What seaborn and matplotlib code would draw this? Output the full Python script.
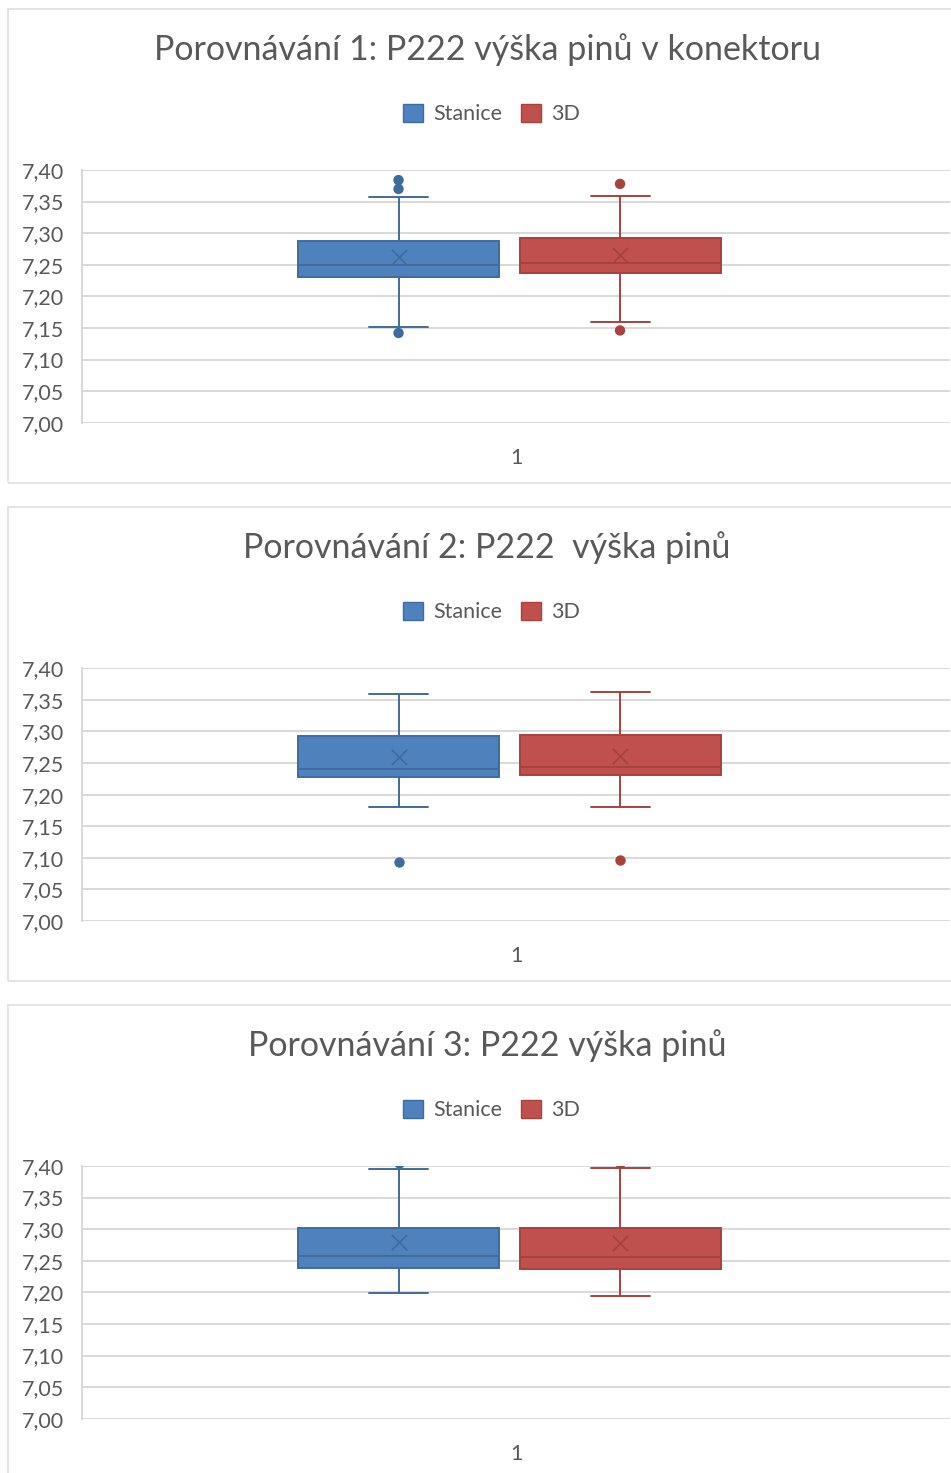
import numpy as np
import pandas as pd
import matplotlib
matplotlib.use("Agg")
import matplotlib.pyplot as plt
from matplotlib.patches import Patch, Rectangle
from matplotlib.transforms import ScaledTranslation
import seaborn as sns

# ---------------- data ----------------
titles = [
    "Porovnávání 1: P222 výška pinů v konektoru",
    "Porovnávání 2: P222  výška pinů",
    "Porovnávání 3: P222 výška pinů",
]
series = ["Stanice", "3D"]
category = "1"

# Stanice (blue)
st_whisker_low = [7.151, 7.180, 7.1985]
st_q1 = [7.231, 7.2275, 7.238]
st_median = [7.2496, 7.2412, 7.258]
st_q3 = [7.2876, 7.2924, 7.3026]
st_whisker_high = [7.358, 7.3598, 7.3955]
st_mean = [7.262, 7.2601, 7.279]
st_outliers = [[7.142, 7.370, 7.384], [7.0935], [7.404]]

# 3D (red)
d3_whisker_low = [7.1594, 7.181, 7.1945]
d3_q1 = [7.2365, 7.2307, 7.2375]
d3_median = [7.2523, 7.2433, 7.256]
d3_q3 = [7.292, 7.2945, 7.302]
d3_whisker_high = [7.3594, 7.363, 7.3968]
d3_mean = [7.2654, 7.2617, 7.278]
d3_outliers = [[7.146, 7.378], [7.0962], [7.404]]

y_ticks = [7.00, 7.05, 7.10, 7.15, 7.20, 7.25, 7.30, 7.35, 7.40]
y_tick_labels = ["7,00", "7,05", "7,10", "7,15", "7,20", "7,25", "7,30", "7,35", "7,40"]

# ---------------- styling ----------------
fills = {"Stanice": "#4F81BD", "3D": "#C0504D"}
edges = {"Stanice": "#3F6C9F", "3D": "#A8423F"}
text_col = "#595959"
grid_col = "#D9D9D9"

sns.set_theme(style="white")
plt.rcParams["font.family"] = ["Lato", "DejaVu Sans"]

W, H = 951, 1473
fig = plt.figure(figsize=(W / 100, H / 100), dpi=100)
fig.patch.set_facecolor("white")

# ---------------- build tables ----------------
summ = {
    "Stanice": (st_whisker_low, st_q1, st_median, st_q3, st_whisker_high, st_mean, st_outliers),
    "3D": (d3_whisker_low, d3_q1, d3_median, d3_q3, d3_whisker_high, d3_mean, d3_outliers),
}
box_rows, mean_rows, out_rows = [], [], []
for p in range(3):
    for s in series:
        wl, q1, md, q3, wh, mn, outs = summ[s]
        # sample whose linear quartiles / range equal the read summary
        for v in [wl[p], q1[p], q1[p], md[p], md[p], md[p], q3[p], q3[p], wh[p]]:
            box_rows.append(dict(panel=p, series=s, cat=category, value=v))
        mean_rows.append(dict(panel=p, series=s, cat=category, value=mn[p]))
        for v in outs[p]:
            out_rows.append(dict(panel=p, series=s, cat=category, value=v))
box_df = pd.DataFrame(box_rows)
mean_df = pd.DataFrame(mean_rows)
out_df = pd.DataFrame(out_rows)

panel_tops = [9, 507, 1005]
axis_tops = [170, 668.3, 1166]
ax_h = 252.7

for p in range(3):
    # chart-area border
    top = panel_tops[p]
    bottom = top + 474
    fig.patches.append(Rectangle((8 / W, 1 - bottom / H), 1.2, 474 / H,
                                 transform=fig.transFigure, fill=False,
                                 edgecolor="#E2E2E2", linewidth=1.3, zorder=0))
    # title
    fig.text(487 / W, 1 - (top + 41) / H, titles[p], ha="center", va="center",
             fontsize=24.5, color=text_col)

    at = axis_tops[p]
    ax = fig.add_axes([82 / W, 1 - (at + ax_h) / H, (950 - 82) / W, ax_h / H])
    sub = box_df[box_df.panel == p]
    sns.boxplot(data=sub, x="cat", y="value", hue="series", hue_order=series,
                palette=fills, saturation=1, width=0.8, gap=0.0925, whis=(0, 100),
                showfliers=False, capwidths=0.1065, linewidth=1.3,
                legend=False, ax=ax)
    # colour edges per series (left = Stanice, right = 3D)
    for ln in ax.lines:
        xm = np.mean(ln.get_xdata())
        ln.set_color(edges["Stanice"] if xm < 0 else edges["3D"])
        ln.set_linewidth(1.4)
    for patch in ax.patches:
        verts = patch.get_path().vertices
        xm = np.mean(verts[:, 0])
        patch.set_edgecolor(edges["Stanice"] if xm < 0 else edges["3D"])
        patch.set_linewidth(1.4)

    n0 = len(ax.collections)
    sns.stripplot(data=mean_df[mean_df.panel == p], x="cat", y="value", hue="series",
                  hue_order=series, palette=edges, dodge=True, jitter=False,
                  marker="x", size=11, linewidth=1.2, legend=False, ax=ax, zorder=5)
    sns.stripplot(data=out_df[out_df.panel == p], x="cat", y="value", hue="series",
                  hue_order=series, palette=fills, dodge=True, jitter=False,
                  marker="o", size=7.5, linewidth=0, legend=False, ax=ax, zorder=5)
    for coll in ax.collections[n0:]:
        offs = coll.get_offsets()
        if len(offs) == 0:
            continue
        cols = [edges["Stanice"] if o[0] < 0 else edges["3D"] for o in offs]
        coll.set_edgecolors(cols)
        coll.set_facecolors(cols)

    ax.set_xlim(-0.7716, 0.7959)
    ax.set_ylim(7.0, 7.4)
    ax.set_yticks(y_ticks)
    ax.set_yticklabels(y_tick_labels)
    ax.set_xlabel("")
    ax.set_ylabel("")
    ax.set_xticks([0])
    ax.set_xticklabels([category])
    ax.tick_params(axis="both", length=0, labelsize=15.5, labelcolor=text_col)
    ax.tick_params(axis="y", pad=13)
    ax.tick_params(axis="x", pad=18)
    for lbl in ax.get_xticklabels():
        lbl.set_transform(lbl.get_transform() + ScaledTranslation(0.07, 0, fig.dpi_scale_trans))
    ax.grid(axis="y", color=grid_col, linewidth=1.4)
    ax.grid(axis="x", visible=False)
    ax.set_axisbelow(True)
    for sp in ["top", "right", "bottom"]:
        ax.spines[sp].set_visible(False)
    ax.spines["left"].set_color(grid_col)
    ax.spines["left"].set_linewidth(1.4)
    ax.set_facecolor("none")

    handles = [Patch(facecolor=fills[s], edgecolor=edges[s], linewidth=1.0) for s in series]
    ax.legend(handles, series, loc="center", ncol=2, frameon=False,
              bbox_to_anchor=(491.5 / W, 1 - (top + 105) / H),
              bbox_transform=fig.transFigure, fontsize=15.5,
              labelcolor=text_col, handlelength=0.93, handleheight=0.93,
              handletextpad=0.46, columnspacing=0.88)

fig.savefig("out.png", dpi=100, facecolor="white")
